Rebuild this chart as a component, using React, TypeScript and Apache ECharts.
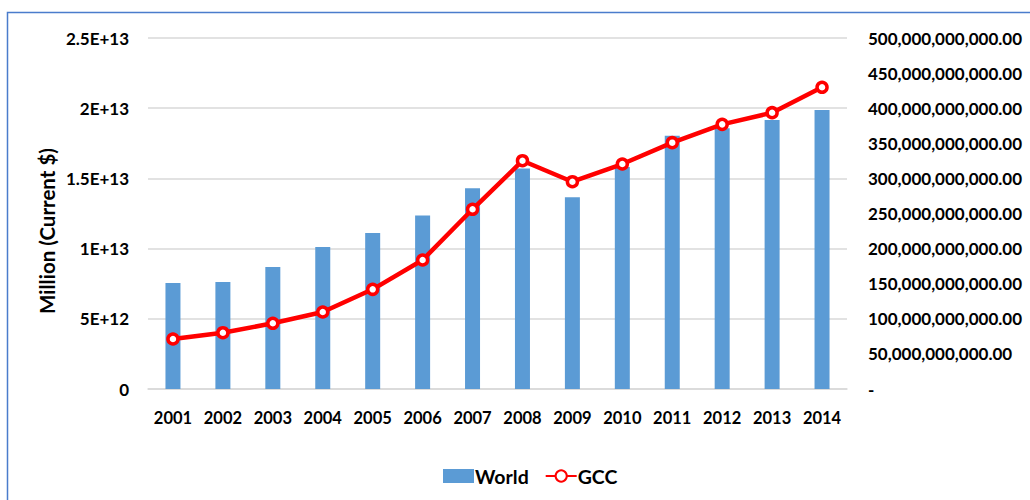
import React, { useEffect, useRef } from "react";
import * as echarts from "echarts";

const years = ["2001", "2002", "2003", "2004", "2005", "2006", "2007", "2008", "2009", "2010", "2011", "2012", "2013", "2014"];
const worldValues = [7.55e12, 7.62e12, 8.69e12, 10.11e12, 11.11e12, 12.36e12, 14.3e12, 15.7e12, 13.65e12, 15.82e12, 18.04e12, 18.57e12, 19.16e12, 19.87e12];
const gccValues = [71.2e9, 80.2e9, 93.6e9, 109.7e9, 142e9, 183.8e9, 256e9, 325.2e9, 295.3e9, 320.5e9, 350.9e9, 377e9, 393.6e9, 429.8e9];
const leftTickLabels = ["0", "5E+12", "1E+13", "1.5E+13", "2E+13", "2.5E+13"];
const rightTickLabels = ["-", "50,000,000,000.00", "100,000,000,000.00", "150,000,000,000.00", "200,000,000,000.00", "250,000,000,000.00", "300,000,000,000.00", "350,000,000,000.00", "400,000,000,000.00", "450,000,000,000.00", "500,000,000,000.00"];
const leftAxisTitle = "Million (Current $)";

const FONT = "Lato";

export default function App() {
  const ref = useRef<HTMLDivElement>(null);

  useEffect(() => {
    if (!ref.current) return;
    const chart = echarts.init(ref.current, null, { renderer: "svg" });
    const labelStyle = { color: "#000", fontFamily: FONT, fontWeight: "bold" as const, fontSize: 17 };
    chart.setOption({
      animation: false,
      backgroundColor: "#fff",
      graphic: [
        {
          type: "rect",
          shape: { x: 7.5, y: 12.5, width: 1060, height: 540 },
          style: { fill: "none", stroke: "#4a7ccc", lineWidth: 1.5 },
          silent: true,
        },
        {
          type: "text",
          x: 47,
          y: 231,
          rotation: Math.PI / 2,
          silent: true,
          style: {
            text: leftAxisTitle,
            fill: "#000",
            font: `bold 20.5px ${FONT}`,
            align: "center",
            verticalAlign: "middle",
          },
        },
      ],
      grid: { left: 148, right: 183, top: 38, bottom: 111, containLabel: false },
      legend: {
        left: 438,
        top: 461,
        itemGap: 16,
        itemWidth: 31,
        itemHeight: 14,
        textStyle: { ...labelStyle, fontSize: 19.5, padding: [0, 0, 0, -4] },
        data: [
          { name: "World", icon: "rect" },
          { name: "GCC" },
        ],
      },
      xAxis: {
        type: "category",
        data: years,
        axisLine: { lineStyle: { color: "#d9d9d9", width: 1.5 } },
        axisTick: { show: false },
        axisLabel: { ...labelStyle, fontSize: 16.5, margin: 20, interval: 0 },
      },
      yAxis: [
        {
          type: "value",
          min: 0,
          max: 2.5e13,
          interval: 5e12,
          axisLine: { show: false },
          axisTick: { show: false },
          splitLine: { lineStyle: { color: "#d9d9d9", width: 1.5 } },
          axisLabel: {
            ...labelStyle,
            margin: 19,
            formatter: (v: number) => leftTickLabels[Math.round(v / 5e12)] ?? "",
          },
        },
        {
          type: "value",
          min: 0,
          max: 5e11,
          interval: 5e10,
          axisLine: { show: false },
          axisTick: { show: false },
          splitLine: { show: false },
          axisLabel: {
            ...labelStyle,
            margin: 21,
            formatter: (v: number) => rightTickLabels[Math.round(v / 5e10)] ?? "",
          },
        },
      ],
      series: [
        {
          name: "World",
          type: "bar",
          data: worldValues,
          barWidth: 15,
          itemStyle: { color: "#5b9bd5" },
          yAxisIndex: 0,
        },
        {
          name: "GCC",
          type: "line",
          data: gccValues,
          yAxisIndex: 1,
          symbol: "circle",
          symbolSize: 10,
          lineStyle: { color: "#ff0000", width: 4.5 },
          itemStyle: { color: "#fff", borderColor: "#ff0000", borderWidth: 3.5 },
          z: 3,
        },
      ],
    });
    return () => chart.dispose();
  }, []);

  return (
    <div
      ref={ref}
      style={{ position: "fixed", left: 0, top: 0, width: 1030, height: 500 }}
    />
  );
}
